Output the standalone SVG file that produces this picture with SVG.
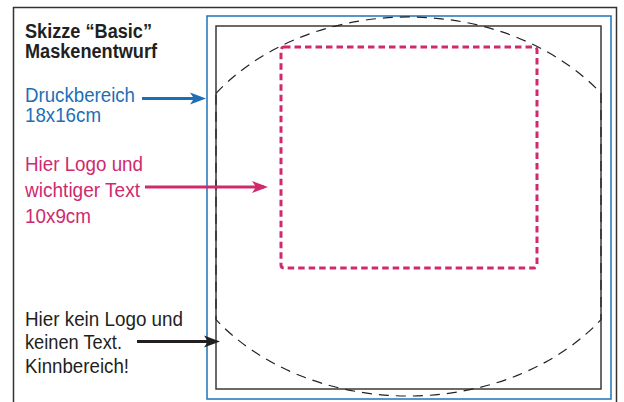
<svg xmlns="http://www.w3.org/2000/svg" width="624" height="402" viewBox="0 0 624 402">
<style>
.t{font-family:"Liberation Sans",Arial,sans-serif;font-size:20px}
.b{font-weight:bold;fill:#231f20}
.k{fill:#231f20}
.bl{fill:#1c6fb6}
.m{fill:#cf2a6e}
.frame{fill:none;stroke:#333;stroke-width:1.5}
</style>
<defs>
<marker id="ab" markerUnits="userSpaceOnUse" markerWidth="17" markerHeight="13" refX="12" refY="6.5" orient="auto"><path d="M0,0.5 L16,6.5 L0,12.5 L4,6.5 Z" fill="#1c6fb6"/></marker>
<marker id="am" markerUnits="userSpaceOnUse" markerWidth="17" markerHeight="13" refX="12" refY="6.5" orient="auto"><path d="M0,0.5 L16,6.5 L0,12.5 L4,6.5 Z" fill="#cf2a6e"/></marker>
<marker id="ak" markerUnits="userSpaceOnUse" markerWidth="17" markerHeight="13" refX="12" refY="6.5" orient="auto"><path d="M0,0.5 L16,6.5 L0,12.5 L4,6.5 Z" fill="#231f20"/></marker>
</defs>
<rect width="624" height="402" fill="#fff"/>
<g id="outer-frame"><rect class="frame" x="13.5" y="7.5" width="603" height="402"/></g>
<g id="print-area"><rect x="207" y="16" width="404" height="383" fill="none" stroke="#1f73b7" stroke-width="1.5"/></g>
<g id="mask"><rect x="216" y="26" width="385" height="363" fill="none" stroke="#3a3a3a" stroke-width="1.5"/></g>
<g id="face-outline"><path d="M216,93.3 A240,189.5 0 0 1 601,93.3 L601,319.7 A240,189.5 0 0 1 216,319.7 Z" fill="none" stroke="#222" stroke-width="1.2" stroke-dasharray="10 7"/></g>
<g id="logo-area"><rect x="281" y="47" width="256" height="221" rx="3" fill="none" stroke="#cf2a6e" stroke-width="3" stroke-dasharray="6.5 4"/></g>
<g id="title">
<text class="t b" x="25" y="37.5" textLength="127" lengthAdjust="spacingAndGlyphs">Skizze “Basic”</text>
<text class="t b" x="25" y="57.5" textLength="132" lengthAdjust="spacingAndGlyphs">Maskenentwurf</text>
</g>
<g id="label-druck">
<text class="t bl" x="25" y="102" textLength="110" lengthAdjust="spacingAndGlyphs">Druckbereich</text>
<text class="t bl" x="25" y="122" textLength="76" lengthAdjust="spacingAndGlyphs">18x16cm</text>
</g>
<g id="label-logo">
<text class="t m" x="25" y="171" textLength="118" lengthAdjust="spacingAndGlyphs">Hier Logo und</text>
<text class="t m" x="25" y="197" textLength="115" lengthAdjust="spacingAndGlyphs">wichtiger Text</text>
<text class="t m" x="25" y="223" textLength="66" lengthAdjust="spacingAndGlyphs">10x9cm</text>
</g>
<g id="label-kinn">
<text class="t k" x="25" y="326" textLength="158" lengthAdjust="spacingAndGlyphs">Hier kein Logo und</text>
<text class="t k" x="25" y="349" textLength="97" lengthAdjust="spacingAndGlyphs">keinen Text.</text>
<text class="t k" x="25" y="372.5" textLength="104" lengthAdjust="spacingAndGlyphs">Kinnbereich!</text>
</g>
<g id="connectors" fill="none" stroke-width="3">
<line x1="142" y1="98.5" x2="202" y2="98.5" stroke="#1c6fb6" marker-end="url(#ab)"/>
<line x1="145" y1="187" x2="264" y2="187" stroke="#cf2a6e" marker-end="url(#am)"/>
<line x1="137" y1="341.5" x2="216" y2="341.5" stroke="#231f20" marker-end="url(#ak)"/>
</g>
</svg>
